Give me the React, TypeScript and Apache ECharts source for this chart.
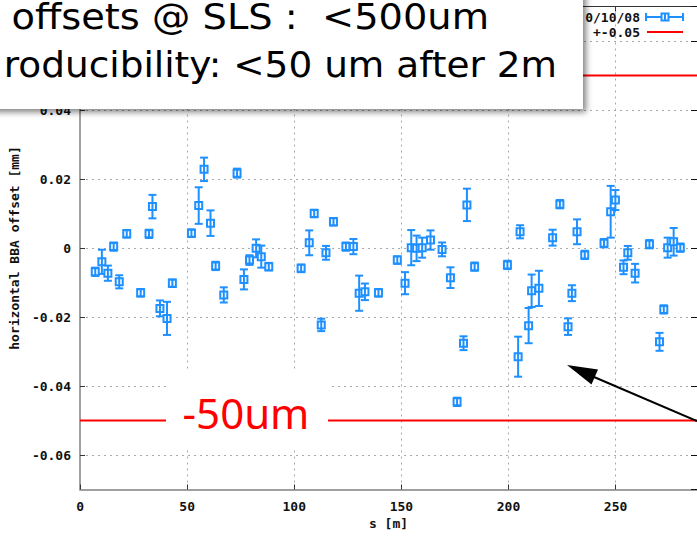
import React, { useEffect, useRef } from "react";
import * as echarts from "echarts";

// ---- data ----
const sPos = [
  7.1, 10.2, 13.0, 15.7, 18.3, 21.8, 28.3, 32.2, 33.8, 37.3, 40.6, 43.1, 52.0, 55.4, 57.9, 60.9,
  63.3, 67.1, 73.3, 76.5, 79.1, 82.2, 84.6, 88.1, 103.2, 107.0, 109.3, 112.6, 114.8, 118.3, 124.1,
  127.6, 130.3, 133.0, 139.3, 148.1, 151.7, 154.6, 157.1, 159.7, 163.6, 169.0, 172.9, 176.0, 179.0,
  180.6, 184.2, 199.5, 204.5, 205.4, 209.4, 210.8, 214.2, 220.6, 224.0, 227.8, 229.6, 232.0, 235.6,
  244.6, 247.7, 249.9, 253.7, 255.7, 259.1, 265.8, 270.5, 272.5, 274.3, 277.1, 280.2,
];
const offsetMm = [
  -0.0069, -0.004, -0.0073, 0.0004, -0.0098, 0.0041, -0.013, 0.0041, 0.012, -0.0175, -0.0204, -0.0102,
  0.0043, 0.0123, 0.0228, 0.0072, -0.0052, -0.0136, 0.0217, -0.0091, -0.0035, -0.0001, -0.0025, -0.0054,
  -0.0059, 0.0015, 0.01, -0.0223, -0.0014, 0.0076, 0.0004, 0.0004, -0.0131, -0.0127, -0.013, -0.0035,
  -0.0102, 0.0001, -0.0001, 0.0001, 0.0023, -0.0004, -0.0086, -0.0446, -0.0276, 0.0125, -0.0054,
  -0.0049, -0.0315, 0.0047, -0.0225, -0.0124, -0.0117, 0.003, 0.0127, -0.0228, -0.0131, 0.0047, -0.002,
  0.0014, 0.0105, 0.0139, -0.0056, -0.0014, -0.0073, 0.0011, -0.0272, -0.0178, 0.0001, 0.0018, 0.0001,
];
const errMm = [
  0.0012, 0.0035, 0.0022, 0.0012, 0.0019, 0.0011, 0.0011, 0.0012, 0.0034, 0.0023, 0.0048, 0.0011,
  0.0011, 0.0053, 0.0034, 0.0037, 0.0012, 0.0022, 0.0013, 0.0029, 0.0014, 0.0026, 0.0032, 0.0011,
  0.0011, 0.0036, 0.0011, 0.0018, 0.002, 0.0011, 0.0012, 0.0022, 0.0051, 0.0024, 0.0011, 0.0011,
  0.0032, 0.0051, 0.0037, 0.0029, 0.0028, 0.002, 0.003, 0.0012, 0.002, 0.0047, 0.0012,
  0.0012, 0.0058, 0.0019, 0.0051, 0.0047, 0.0051, 0.0023, 0.0012, 0.0024, 0.0023, 0.0036, 0.0012,
  0.0012, 0.0075, 0.0029, 0.002, 0.002, 0.0027, 0.0012, 0.0026, 0.0012, 0.0029, 0.004, 0.0012,
];
const toleranceMm = 0.05;
const sRange = [0, 288];
const offsetRange = [-0.07, 0.07];
const legendLabels = ["0/10/08", "+-0.05"];
const headerLine1 = [
  { t: "offsets ", red: false },
  { t: "@ SLS", red: true },
  { t: " :  <500um", red: false },
];
const headerLine2 = [
  { t: "roducibility: ", red: false },
  { t: "<50 um", red: true },
  { t: " after ", red: false },
  { t: "2m", red: true },
];
const bandLabel = "-50um";

const BLUE = "#1e90ff";
const RED = "#ff0000";
const MONO = "'DejaVu Sans Mono', monospace";
const SANS = "'Noto Sans', sans-serif";
const HEAD = "'DejaVu Sans', sans-serif";

function richText(parts: { t: string; red: boolean }[]) {
  return parts.map((p) => `{${p.red ? "r" : "k"}|${p.t}}`).join("");
}

export default function App() {
  const ref = useRef<HTMLDivElement>(null);
  useEffect(() => {
    if (!ref.current) return;
    const chart = echarts.init(ref.current, null, { renderer: "svg" });
    const data = sPos.map((s, i) => [s, offsetMm[i], errMm[i]]);
    const headFont = 36;
    const rich = {
      k: { fontFamily: HEAD, fontSize: headFont, color: "#000" },
      r: { fontFamily: HEAD, fontSize: headFont, color: RED },
    };
    const axisLabelStyle = {
      color: "#111",
      fontFamily: MONO,
      fontWeight: "bold" as const,
      fontSize: 13,
    };
    const gridDots = { color: "#a8a8a8", type: [2, 4] as number[], width: 1 };
    chart.setOption({
      animation: false,
      backgroundColor: "#fff",
      grid: { left: 78, top: 6.5, width: 620, height: 483, containLabel: false },
      xAxis: [
        {
          type: "value",
          min: sRange[0],
          max: sRange[1],
          interval: 50,
          name: "s [m]",
          nameLocation: "middle",
          nameGap: 20,
          nameTextStyle: { ...axisLabelStyle },
          axisLine: { show: true, onZero: false, lineStyle: { color: "#a0a0a0", width: 2 } },
          axisTick: { show: true, inside: true, length: 5, lineStyle: { color: "#333" } },
          axisLabel: { ...axisLabelStyle, margin: 10, showMaxLabel: false },
          splitLine: { show: true, lineStyle: gridDots },
        },
        {
          type: "value",
          position: "top",
          min: sRange[0],
          max: sRange[1],
          interval: 50,
          axisLine: { show: true, onZero: false, lineStyle: { color: "#333", width: 1 } },
          axisTick: { show: true, inside: true, length: 5, lineStyle: { color: "#333" } },
          axisLabel: { show: false },
          splitLine: { show: false },
        },
      ],
      yAxis: [
        {
          type: "value",
          min: offsetRange[0],
          max: offsetRange[1],
          splitNumber: 7,
          name: "horizontal BBA offset [mm]",
          nameLocation: "middle",
          nameGap: 58,
          nameTextStyle: { ...axisLabelStyle },
          axisLine: { show: true, onZero: false, lineStyle: { color: "#a0a0a0", width: 2 } },
          axisTick: { show: true, inside: true, length: 5, lineStyle: { color: "#333" } },
          axisLabel: { ...axisLabelStyle, margin: 9, showMinLabel: false, showMaxLabel: false },
          splitLine: { show: true, lineStyle: gridDots },
        },
        {
          type: "value",
          position: "right",
          min: offsetRange[0],
          max: offsetRange[1],
          splitNumber: 7,
          axisLine: { show: true, onZero: false, lineStyle: { color: "#333", width: 1 } },
          axisTick: { show: true, inside: true, length: 6, lineStyle: { color: "#111" } },
          axisLabel: { show: false },
          splitLine: { show: false },
        },
      ],
      series: [
        {
          type: "line",
          data: [
            [sRange[0], toleranceMm],
            [sRange[1], toleranceMm],
          ],
          symbol: "none",
          lineStyle: { color: RED, width: 2 },
          z: 3,
        },
        {
          type: "line",
          data: [
            [sRange[0], -toleranceMm],
            [sRange[1], -toleranceMm],
          ],
          symbol: "none",
          lineStyle: { color: RED, width: 2 },
          z: 3,
        },
        {
          type: "custom",
          data,
          encode: { x: 0, y: 1 },
          z: 4,
          renderItem: (params: any, api: any) => {
            const x = api.value(0);
            const y = api.value(1);
            const e = api.value(2);
            const c = api.coord([x, y]);
            const t = api.coord([x, y + e]);
            const b = api.coord([x, y - e]);
            const st = { stroke: BLUE, lineWidth: 2, fill: null };
            return {
              type: "group",
              children: [
                { type: "line", shape: { x1: c[0], y1: t[1], x2: c[0], y2: b[1] }, style: st },
                { type: "line", shape: { x1: c[0] - 4, y1: t[1], x2: c[0] + 4, y2: t[1] }, style: st },
                { type: "line", shape: { x1: c[0] - 4, y1: b[1], x2: c[0] + 4, y2: b[1] }, style: st },
                {
                  type: "rect",
                  shape: { x: c[0] - 3.5, y: c[1] - 3.5, width: 7, height: 7 },
                  style: { fill: "#fff", stroke: BLUE, lineWidth: 2 },
                },
                { type: "line", shape: { x1: c[0], y1: c[1] - 3.5, x2: c[0], y2: c[1] + 3.5 }, style: st },
              ],
            };
          },
        },
      ],
      graphic: [
        // legend
        {
          type: "text",
          x: 640,
          y: 17,
          z: 60,
          style: { text: legendLabels[0], align: "right", verticalAlign: "middle", font: `bold 13px ${MONO}`, fill: "#111" },
        },
        { type: "line", z: 60, shape: { x1: 646, y1: 17, x2: 683, y2: 17 }, style: { stroke: BLUE, lineWidth: 2 } },
        { type: "line", z: 60, shape: { x1: 646, y1: 13, x2: 646, y2: 21 }, style: { stroke: BLUE, lineWidth: 2 } },
        { type: "line", z: 60, shape: { x1: 683, y1: 13, x2: 683, y2: 21 }, style: { stroke: BLUE, lineWidth: 2 } },
        { type: "rect", z: 60, shape: { x: 661.5, y: 13.5, width: 7, height: 7 }, style: { fill: "#fff", stroke: BLUE, lineWidth: 2 } },
        { type: "line", z: 60, shape: { x1: 665, y1: 13.5, x2: 665, y2: 20.5 }, style: { stroke: BLUE, lineWidth: 2 } },
        {
          type: "text",
          x: 640,
          y: 32,
          z: 60,
          style: { text: legendLabels[1], align: "right", verticalAlign: "middle", font: `bold 13px ${MONO}`, fill: "#111" },
        },
        { type: "line", z: 60, shape: { x1: 647, y1: 32, x2: 683, y2: 32 }, style: { stroke: RED, lineWidth: 2 } },
        // -50um label with white backing
        { type: "rect", z: 70, shape: { x: 166, y: 370, width: 162, height: 78 }, style: { fill: "#fff" } },
        {
          type: "text",
          x: 246,
          y: 412,
          z: 71,
          style: { text: bandLabel, align: "center", verticalAlign: "middle", font: `42px ${SANS}`, fill: RED },
        },
        // arrow
        { type: "line", z: 72, shape: { x1: 697, y1: 421, x2: 594, y2: 377 }, style: { stroke: "#000", lineWidth: 2 } },
        {
          type: "polygon",
          z: 72,
          shape: { points: [[567, 365], [598, 369.5], [591.5, 384.5]] },
          style: { fill: "#000" },
        },
        // header box
        {
          type: "rect",
          z: 90,
          shape: { x: -10, y: -10, width: 593, height: 119 },
          style: { fill: "#fff", shadowBlur: 6, shadowColor: "rgba(0,0,0,0.5)", shadowOffsetX: 3, shadowOffsetY: 3 },
        },
        {
          type: "text",
          x: 489,
          y: 16,
          z: 91,
          scaleX: 1.065,
          style: { text: richText(headerLine1), rich, align: "right", verticalAlign: "middle" },
        },
        {
          type: "text",
          x: 557,
          y: 65,
          z: 91,
          scaleX: 1.04,
          style: { text: richText(headerLine2), rich, align: "right", verticalAlign: "middle" },
        },
      ],
    });
    return () => chart.dispose();
  }, []);
  return <div ref={ref} style={{ width: 697, height: 539, position: "absolute", left: 0, top: 0 }} />;
}
